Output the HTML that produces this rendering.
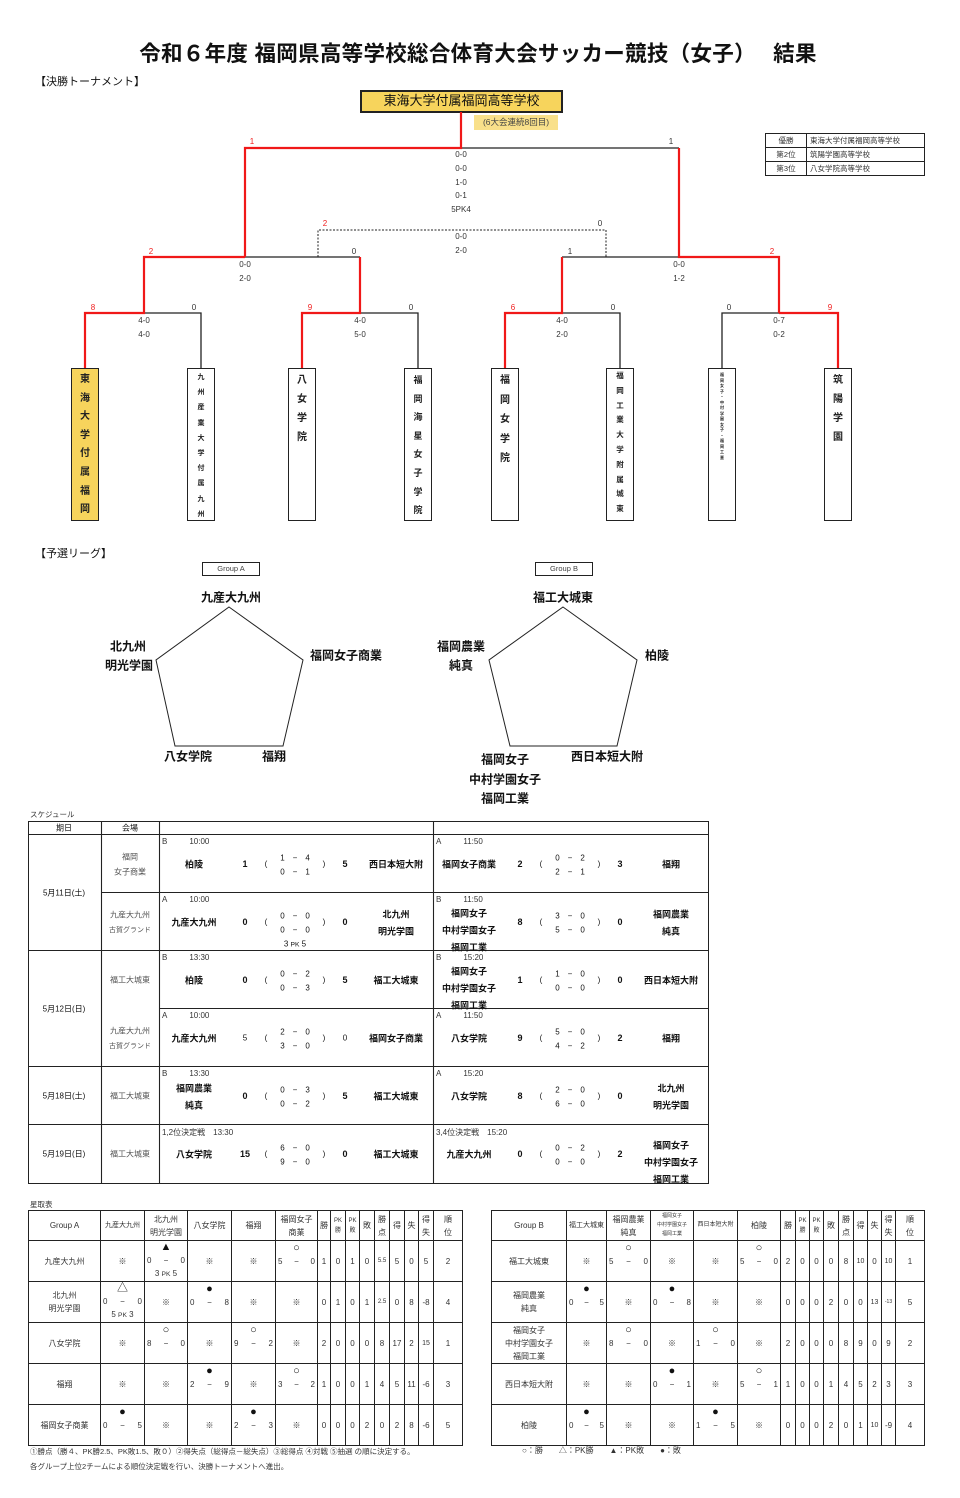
<!DOCTYPE html>
<html><head><meta charset="utf-8">
<style>
*{margin:0;padding:0;box-sizing:border-box}
body{width:960px;height:1498px;background:#fff;position:relative;font-family:"Liberation Sans","Noto Sans CJK JP",sans-serif;color:#111;overflow:hidden}
.a{position:absolute;white-space:nowrap}
.c{position:absolute;white-space:nowrap;transform:translate(-50%,-50%)}
.tb{position:absolute;top:368px;width:28px;height:153px;border:1.5px solid #222;display:flex;flex-direction:column;align-items:center;justify-content:flex-start;font-weight:bold;color:#222}
.lab{font-size:12px;font-weight:bold}
.m{position:absolute;width:274px;height:58px}
.m .lb{position:absolute;left:3px;top:3px;font-size:8px;color:#333}
.m .lb b{font-weight:normal;margin-left:22px}
.m span{position:absolute;white-space:nowrap;transform:translate(-50%,-50%)}
.n{font-size:9px;font-weight:bold}
.s{font-size:8px}
table{border-collapse:collapse;table-layout:fixed;position:absolute;font-size:8px}
td{border:1px solid #222;text-align:center;vertical-align:middle;padding:0;line-height:13px;color:#333}
.r td{height:41px}
.hd td{height:30px}
.rs{display:flex;justify-content:space-between;padding:0 2px}
i{font-style:normal;font-size:11px;line-height:13px;display:block;color:#111}
</style></head><body>

<div class="a" style="left:0;width:956px;top:37px;text-align:center;font-size:21.5px;font-weight:bold;letter-spacing:0.3px">令和６年度 福岡県高等学校総合体育大会サッカー競技（女子）　 結果</div>
<div class="a" style="left:35px;top:73px;font-size:11px">【決勝トーナメント】</div>

<div class="a" style="left:360px;top:90px;width:203px;height:23px;background:#f7d45c;border:2.5px solid #222;text-align:center;font-size:13px;line-height:18px">東海大学付属福岡高等学校</div>
<div class="a" style="left:474px;top:115px;width:84px;height:15px;background:#f9e08a;font-size:8.5px;line-height:15px;text-align:center;color:#444">(6大会連続8回目)</div>

<table style="left:765px;top:133px;width:160px;border:1.5px solid #222;font-size:7.5px">
<tr><td style="width:41px;height:14px;line-height:12px">優勝</td><td style="text-align:left;padding-left:3px;line-height:12px">東海大学付属福岡高等学校</td></tr>
<tr><td style="height:14px;line-height:12px">第2位</td><td style="text-align:left;padding-left:3px;line-height:12px">筑陽学園高等学校</td></tr>
<tr><td style="height:14px;line-height:12px">第3位</td><td style="text-align:left;padding-left:3px;line-height:12px">八女学院高等学校</td></tr>
</table>

<svg class="a" style="left:0;top:0" width="960" height="530">
<g fill="none" stroke-width="1.3" stroke="#222">
<path d="M461 148H679"/>
<path d="M245 257H360M562 257H679"/>
<path d="M144 313H201V368M360 313H418V368M562 313H620V368M722 368V313H779"/>
<path d="M318 257V230H606V257" stroke-dasharray="2 1.5" stroke-width="1"/>
</g>
<g fill="none" stroke-width="2.2" stroke="#f01818">
<path d="M461 112V148H245V257"/>
<path d="M679 148V257H779V313"/>
<path d="M245 257H144V313H85V368"/>
<path d="M360 257V313H302V368"/>
<path d="M562 257V313H505V368"/>
<path d="M779 313H838V368"/>
</g>
<g font-size="8" fill="#333" text-anchor="middle" font-family="Liberation Sans,Noto Sans CJK JP,sans-serif">
<text x="252" y="144" fill="#f02020">1</text><text x="671" y="144">1</text>
<text x="461" y="157">0-0</text><text x="461" y="171">0-0</text><text x="461" y="185">1-0</text><text x="461" y="198">0-1</text><text x="461" y="212">5PK4</text>
<text x="325" y="226" fill="#f02020">2</text><text x="600" y="226">0</text>
<text x="461" y="239">0-0</text><text x="461" y="253">2-0</text>
<text x="151" y="254" fill="#f02020">2</text><text x="354" y="254">0</text><text x="570" y="254">1</text><text x="772" y="254" fill="#f02020">2</text>
<text x="245" y="267">0-0</text><text x="245" y="281">2-0</text><text x="679" y="267">0-0</text><text x="679" y="281">1-2</text>
<text x="93" y="310" fill="#f02020">8</text><text x="194" y="310">0</text>
<text x="310" y="310" fill="#f02020">9</text><text x="411" y="310">0</text>
<text x="513" y="310" fill="#f02020">6</text><text x="613" y="310">0</text>
<text x="729" y="310">0</text><text x="830" y="310" fill="#f02020">9</text>
<text x="144" y="323">4-0</text><text x="144" y="337">4-0</text>
<text x="360" y="323">4-0</text><text x="360" y="337">5-0</text>
<text x="562" y="323">4-0</text><text x="562" y="337">2-0</text>
<text x="779" y="323">0-7</text><text x="779" y="337">0-2</text>
</g>
</svg>

<div class="tb" style="left:71px;background:#f7d45c;font-size:10px;line-height:18.6px;padding-top:2px">東<br>海<br>大<br>学<br>付<br>属<br>福<br>岡</div>
<div class="tb" style="left:187px;font-size:7px;line-height:15.2px;padding-top:1px;text-align:center">九<br>州<br>産<br>業<br>大<br>学<br>付<br>属<br>九<br>州</div>
<div class="tb" style="left:288px;font-size:10px;line-height:19px;padding-top:2px;text-align:center">八<br>女<br>学<br>院</div>
<div class="tb" style="left:404px;font-size:9px;line-height:18.6px;padding-top:2px;text-align:center">福<br>岡<br>海<br>星<br>女<br>子<br>学<br>院</div>
<div class="tb" style="left:491px;font-size:10px;line-height:19.5px;padding-top:2px;text-align:center">福<br>岡<br>女<br>学<br>院</div>
<div class="tb" style="left:606px;font-size:7.5px;line-height:14.8px;padding-top:0px;text-align:center">福<br>岡<br>工<br>業<br>大<br>学<br>附<br>属<br>城<br>東</div>
<div class="tb" style="left:708px;font-size:4px;line-height:5.5px;padding-top:3px;text-align:center">福<br>岡<br>女<br>子<br>・<br>中<br>村<br>学<br>園<br>女<br>子<br>・<br>福<br>岡<br>工<br>業</div>
<div class="tb" style="left:824px;font-size:10px;line-height:19px;padding-top:2px;text-align:center">筑<br>陽<br>学<br>園</div>

<div class="a" style="left:35px;top:545px;font-size:11px">【予選リーグ】</div>
<div class="a" style="left:202px;top:562px;width:58px;height:14px;border:1px solid #222;font-size:7.5px;line-height:12px;text-align:center;color:#444">Group A</div>
<div class="a" style="left:535px;top:562px;width:58px;height:14px;border:1px solid #222;font-size:7.5px;line-height:12px;text-align:center;color:#444">Group B</div>
<svg class="a" style="left:0;top:0" width="960" height="800">
<polygon points="229,607 303,660 283,746 175,746 156,660" fill="none" stroke="#222" stroke-width="1"/>
<polygon points="563,607 637,660 617,746 510,746 489,660" fill="none" stroke="#222" stroke-width="1"/>
</svg>
<div class="c lab" style="left:231px;top:597px">九産大九州</div>
<div class="c lab" style="left:128px;top:646px">北九州</div>
<div class="c lab" style="left:129px;top:665px">明光学園</div>
<div class="c lab" style="left:346px;top:655px">福岡女子商業</div>
<div class="c lab" style="left:188px;top:756px">八女学院</div>
<div class="c lab" style="left:274px;top:756px">福翔</div>
<div class="c lab" style="left:563px;top:597px">福工大城東</div>
<div class="c lab" style="left:461px;top:646px">福岡農業</div>
<div class="c lab" style="left:461px;top:665px">純真</div>
<div class="c lab" style="left:657px;top:655px">柏陵</div>
<div class="c lab" style="left:505px;top:759px">福岡女子</div>
<div class="c lab" style="left:505px;top:779px">中村学園女子</div>
<div class="c lab" style="left:505px;top:798px">福岡工業</div>
<div class="c lab" style="left:607px;top:756px">西日本短大附</div>

<div class="a" style="left:30px;top:809px;font-size:7.5px;color:#333">スケジュール</div>
<div class="a" style="left:28px;top:821px;width:681px;height:363px;border:1.5px solid #222"></div>
<svg class="a" style="left:0;top:0" width="960" height="1200">
<g stroke="#222" stroke-width="1.1">
<path d="M28 834.5H708M28 950.5H708M28 1066.5H708M28 1124.5H708M101 892.5H708M159 1008.5H708"/>
<path d="M101.5 821V1183M159.5 821V1183M433.5 821V1183"/>
</g>
</svg>
<div class="c s" style="left:64px;top:828px">期日</div>
<div class="c s" style="left:130px;top:828px">会場</div>
<div class="c s" style="left:64px;top:893px">5月11日(土)</div>
<div class="c s" style="left:64px;top:1009px">5月12日(日)</div>
<div class="c s" style="left:64px;top:1096px">5月18日(土)</div>
<div class="c s" style="left:64px;top:1154px">5月19日(日)</div>
<div class="c s" style="left:130px;top:857px;color:#555">福岡</div>
<div class="c s" style="left:130px;top:872px;color:#555">女子商業</div>
<div class="c s" style="left:130px;top:915px;color:#555">九産大九州</div>
<div class="c s" style="left:130px;top:930px;color:#555;font-size:7px">古賀グランド</div>
<div class="c s" style="left:130px;top:980px;color:#555">福工大城東</div>
<div class="c s" style="left:130px;top:1031px;color:#555">九産大九州</div>
<div class="c s" style="left:130px;top:1046px;color:#555;font-size:7px">古賀グランド</div>
<div class="c s" style="left:130px;top:1096px;color:#555">福工大城東</div>
<div class="c s" style="left:130px;top:1154px;color:#555">福工大城東</div>

<div class="m" style="left:159px;top:834px"><div class="lb">B<b>10:00</b></div>
<span class="n" style="left:35px;top:30px">柏陵</span><span class="n" style="left:86px;top:30px">1</span><span class="s" style="left:107px;top:30px">(</span>
<span class="s" style="left:136px;top:24px">1　−　4</span><span class="s" style="left:136px;top:38px">0　−　1</span>
<span class="s" style="left:165px;top:30px">)</span><span class="n" style="left:186px;top:30px">5</span><span class="n" style="left:237px;top:30px">西日本短大附</span></div>
<div class="m" style="left:433px;top:834px"><div class="lb">A<b>11:50</b></div>
<span class="n" style="left:36px;top:30px">福岡女子商業</span><span class="n" style="left:87px;top:30px">2</span><span class="s" style="left:108px;top:30px">(</span>
<span class="s" style="left:137px;top:24px">0　−　2</span><span class="s" style="left:137px;top:38px">2　−　1</span>
<span class="s" style="left:166px;top:30px">)</span><span class="n" style="left:187px;top:30px">3</span><span class="n" style="left:238px;top:30px">福翔</span></div>
<div class="m" style="left:159px;top:892px"><div class="lb">A<b>10:00</b></div>
<span class="n" style="left:35px;top:30px">九産大九州</span><span class="n" style="left:86px;top:30px">0</span><span class="s" style="left:107px;top:30px">(</span>
<span class="s" style="left:136px;top:24px">0　−　0</span><span class="s" style="left:136px;top:38px">0　−　0</span><span class="s" style="left:136px;top:52px">3 <small>PK</small> 5</span>
<span class="s" style="left:165px;top:30px">)</span><span class="n" style="left:186px;top:30px">0</span><span class="n" style="left:237px;top:22px">北九州</span><span class="n" style="left:237px;top:39px">明光学園</span></div>
<div class="m" style="left:433px;top:892px"><div class="lb">B<b>11:50</b></div>
<span class="n" style="left:36px;top:21px">福岡女子</span><span class="n" style="left:36px;top:38px">中村学園女子</span><span class="n" style="left:36px;top:55px">福岡工業</span>
<span class="n" style="left:87px;top:30px">8</span><span class="s" style="left:108px;top:30px">(</span>
<span class="s" style="left:137px;top:24px">3　−　0</span><span class="s" style="left:137px;top:38px">5　−　0</span>
<span class="s" style="left:166px;top:30px">)</span><span class="n" style="left:187px;top:30px">0</span><span class="n" style="left:238px;top:22px">福岡農業</span><span class="n" style="left:238px;top:39px">純真</span></div>
<div class="m" style="left:159px;top:950px"><div class="lb">B<b>13:30</b></div>
<span class="n" style="left:35px;top:30px">柏陵</span><span class="n" style="left:86px;top:30px">0</span><span class="s" style="left:107px;top:30px">(</span>
<span class="s" style="left:136px;top:24px">0　−　2</span><span class="s" style="left:136px;top:38px">0　−　3</span>
<span class="s" style="left:165px;top:30px">)</span><span class="n" style="left:186px;top:30px">5</span><span class="n" style="left:237px;top:30px">福工大城東</span></div>
<div class="m" style="left:433px;top:950px"><div class="lb">B<b>15:20</b></div>
<span class="n" style="left:36px;top:21px">福岡女子</span><span class="n" style="left:36px;top:38px">中村学園女子</span><span class="n" style="left:36px;top:55px">福岡工業</span>
<span class="n" style="left:87px;top:30px">1</span><span class="s" style="left:108px;top:30px">(</span>
<span class="s" style="left:137px;top:24px">1　−　0</span><span class="s" style="left:137px;top:38px">0　−　0</span>
<span class="s" style="left:166px;top:30px">)</span><span class="n" style="left:187px;top:30px">0</span><span class="n" style="left:238px;top:30px">西日本短大附</span></div>
<div class="m" style="left:159px;top:1008px"><div class="lb">A<b>10:00</b></div>
<span class="n" style="left:35px;top:30px">九産大九州</span><span class="s" style="left:86px;top:30px">5</span><span class="s" style="left:107px;top:30px">(</span>
<span class="s" style="left:136px;top:24px">2　−　0</span><span class="s" style="left:136px;top:38px">3　−　0</span>
<span class="s" style="left:165px;top:30px">)</span><span class="s" style="left:186px;top:30px">0</span><span class="n" style="left:237px;top:30px">福岡女子商業</span></div>
<div class="m" style="left:433px;top:1008px"><div class="lb">A<b>11:50</b></div>
<span class="n" style="left:36px;top:30px">八女学院</span><span class="n" style="left:87px;top:30px">9</span><span class="s" style="left:108px;top:30px">(</span>
<span class="s" style="left:137px;top:24px">5　−　0</span><span class="s" style="left:137px;top:38px">4　−　2</span>
<span class="s" style="left:166px;top:30px">)</span><span class="n" style="left:187px;top:30px">2</span><span class="n" style="left:238px;top:30px">福翔</span></div>
<div class="m" style="left:159px;top:1066px"><div class="lb">B<b>13:30</b></div>
<span class="n" style="left:35px;top:22px">福岡農業</span><span class="n" style="left:35px;top:39px">純真</span><span class="n" style="left:86px;top:30px">0</span><span class="s" style="left:107px;top:30px">(</span>
<span class="s" style="left:136px;top:24px">0　−　3</span><span class="s" style="left:136px;top:38px">0　−　2</span>
<span class="s" style="left:165px;top:30px">)</span><span class="n" style="left:186px;top:30px">5</span><span class="n" style="left:237px;top:30px">福工大城東</span></div>
<div class="m" style="left:433px;top:1066px"><div class="lb">A<b>15:20</b></div>
<span class="n" style="left:36px;top:30px">八女学院</span><span class="n" style="left:87px;top:30px">8</span><span class="s" style="left:108px;top:30px">(</span>
<span class="s" style="left:137px;top:24px">2　−　0</span><span class="s" style="left:137px;top:38px">6　−　0</span>
<span class="s" style="left:166px;top:30px">)</span><span class="n" style="left:187px;top:30px">0</span><span class="n" style="left:238px;top:22px">北九州</span><span class="n" style="left:238px;top:39px">明光学園</span></div>
<div class="m" style="left:159px;top:1124px"><div class="lb">1,2位決定戦　13:30</div>
<span class="n" style="left:35px;top:30px">八女学院</span><span class="n" style="left:86px;top:30px">15</span><span class="s" style="left:107px;top:30px">(</span>
<span class="s" style="left:136px;top:24px">6　−　0</span><span class="s" style="left:136px;top:38px">9　−　0</span>
<span class="s" style="left:165px;top:30px">)</span><span class="n" style="left:186px;top:30px">0</span><span class="n" style="left:237px;top:30px">福工大城東</span></div>
<div class="m" style="left:433px;top:1124px"><div class="lb">3,4位決定戦　15:20</div>
<span class="n" style="left:36px;top:30px">九産大九州</span><span class="n" style="left:87px;top:30px">0</span><span class="s" style="left:108px;top:30px">(</span>
<span class="s" style="left:137px;top:24px">0　−　2</span><span class="s" style="left:137px;top:38px">0　−　0</span>
<span class="s" style="left:166px;top:30px">)</span><span class="n" style="left:187px;top:30px">2</span><span class="n" style="left:238px;top:21px">福岡女子</span><span class="n" style="left:238px;top:38px">中村学園女子</span><span class="n" style="left:238px;top:55px">福岡工業</span></div>

<div class="a" style="left:30px;top:1199px;font-size:7.5px;color:#333">星取表</div>

<table style="left:28px;top:1210px;width:435px;border:1.5px solid #222">
<colgroup><col style="width:72px"><col style="width:44px"><col style="width:43px"><col style="width:44px"><col style="width:44px"><col style="width:42px"><col style="width:13px"><col style="width:15px"><col style="width:14px"><col style="width:15px"><col style="width:15px"><col style="width:15px"><col style="width:14px"><col style="width:15px"><col style="width:29px"></colgroup>
<tr class="hd"><td>Group A</td><td style="font-size:7px">九産大九州</td><td>北九州<br>明光学園</td><td>八女学院</td><td>福翔</td><td>福岡女子<br>商業</td><td>勝</td><td style="font-size:6px;line-height:10px">PK<br>勝</td><td style="font-size:6px;line-height:10px">PK<br>敗</td><td>敗</td><td>勝<br>点</td><td>得</td><td>失</td><td>得<br>失</td><td>順<br>位</td></tr>
<tr class="r"><td>九産大九州</td><td>※</td><td><i>▲</i><div class="rs"><span>0</span><span>−</span><span>0</span></div>3 <small>PK</small> 5</td><td>※</td><td>※</td><td><i>○</i><div class="rs"><span>5</span><span>−</span><span>0</span></div>&nbsp;</td><td>1</td><td>0</td><td>1</td><td>0</td><td style="font-size:6px">5.5</td><td>5</td><td>0</td><td>5</td><td>2</td></tr>
<tr class="r"><td>北九州<br>明光学園</td><td><i>△</i><div class="rs"><span>0</span><span>−</span><span>0</span></div>5 <small>PK</small> 3</td><td>※</td><td><i>●</i><div class="rs"><span>0</span><span>−</span><span>8</span></div>&nbsp;</td><td>※</td><td>※</td><td>0</td><td>1</td><td>0</td><td>1</td><td style="font-size:6px">2.5</td><td>0</td><td>8</td><td>-8</td><td>4</td></tr>
<tr class="r"><td>八女学院</td><td>※</td><td><i>○</i><div class="rs"><span>8</span><span>−</span><span>0</span></div>&nbsp;</td><td>※</td><td><i>○</i><div class="rs"><span>9</span><span>−</span><span>2</span></div>&nbsp;</td><td>※</td><td>2</td><td>0</td><td>0</td><td>0</td><td>8</td><td>17</td><td>2</td><td style="font-size:7px">15</td><td>1</td></tr>
<tr class="r"><td>福翔</td><td>※</td><td>※</td><td><i>●</i><div class="rs"><span>2</span><span>−</span><span>9</span></div>&nbsp;</td><td>※</td><td><i>○</i><div class="rs"><span>3</span><span>−</span><span>2</span></div>&nbsp;</td><td>1</td><td>0</td><td>0</td><td>1</td><td>4</td><td>5</td><td>11</td><td>-6</td><td>3</td></tr>
<tr class="r"><td>福岡女子商業</td><td><i>●</i><div class="rs"><span>0</span><span>−</span><span>5</span></div>&nbsp;</td><td>※</td><td>※</td><td><i>●</i><div class="rs"><span>2</span><span>−</span><span>3</span></div>&nbsp;</td><td>※</td><td>0</td><td>0</td><td>0</td><td>2</td><td>0</td><td>2</td><td>8</td><td>-6</td><td>5</td></tr>
</table>

<table style="left:491px;top:1210px;width:434px;border:1.5px solid #222">
<colgroup><col style="width:75px"><col style="width:40px"><col style="width:44px"><col style="width:43px"><col style="width:44px"><col style="width:43px"><col style="width:15px"><col style="width:14px"><col style="width:14px"><col style="width:15px"><col style="width:15px"><col style="width:14px"><col style="width:14px"><col style="width:14px"><col style="width:29px"></colgroup>
<tr class="hd"><td>Group B</td><td style="font-size:7px">福工大城東</td><td>福岡農業<br>純真</td><td style="font-size:5px;line-height:9px">福岡女子<br>中村学園女子<br>福岡工業</td><td style="font-size:6px">西日本短大附</td><td>柏陵</td><td>勝</td><td style="font-size:6px;line-height:10px">PK<br>勝</td><td style="font-size:6px;line-height:10px">PK<br>敗</td><td>敗</td><td>勝<br>点</td><td>得</td><td>失</td><td>得<br>失</td><td>順<br>位</td></tr>
<tr class="r"><td>福工大城東</td><td>※</td><td><i>○</i><div class="rs"><span>5</span><span>−</span><span>0</span></div>&nbsp;</td><td>※</td><td>※</td><td><i>○</i><div class="rs"><span>5</span><span>−</span><span>0</span></div>&nbsp;</td><td>2</td><td>0</td><td>0</td><td>0</td><td>8</td><td style="font-size:7px">10</td><td>0</td><td style="font-size:7px">10</td><td>1</td></tr>
<tr class="r"><td>福岡農業<br>純真</td><td><i>●</i><div class="rs"><span>0</span><span>−</span><span>5</span></div>&nbsp;</td><td>※</td><td><i>●</i><div class="rs"><span>0</span><span>−</span><span>8</span></div>&nbsp;</td><td>※</td><td>※</td><td>0</td><td>0</td><td>0</td><td>2</td><td>0</td><td>0</td><td style="font-size:7px">13</td><td style="font-size:5px">-13</td><td>5</td></tr>
<tr class="r"><td>福岡女子<br>中村学園女子<br>福岡工業</td><td>※</td><td><i>○</i><div class="rs"><span>8</span><span>−</span><span>0</span></div>&nbsp;</td><td>※</td><td><i>○</i><div class="rs"><span>1</span><span>−</span><span>0</span></div>&nbsp;</td><td>※</td><td>2</td><td>0</td><td>0</td><td>0</td><td>8</td><td>9</td><td>0</td><td>9</td><td>2</td></tr>
<tr class="r"><td>西日本短大附</td><td>※</td><td>※</td><td><i>●</i><div class="rs"><span>0</span><span>−</span><span>1</span></div>&nbsp;</td><td>※</td><td><i>○</i><div class="rs"><span>5</span><span>−</span><span>1</span></div>&nbsp;</td><td>1</td><td>0</td><td>0</td><td>1</td><td>4</td><td>5</td><td>2</td><td>3</td><td>3</td></tr>
<tr class="r"><td>柏陵</td><td><i>●</i><div class="rs"><span>0</span><span>−</span><span>5</span></div>&nbsp;</td><td>※</td><td>※</td><td><i>●</i><div class="rs"><span>1</span><span>−</span><span>5</span></div>&nbsp;</td><td>※</td><td>0</td><td>0</td><td>0</td><td>2</td><td>0</td><td>1</td><td style="font-size:7px">10</td><td>-9</td><td>4</td></tr>
</table>

<div class="a" style="left:30px;top:1446px;font-size:7.5px;color:#333">①勝点（勝４、PK勝2.5、PK敗1.5、敗０）②得失点（総得点－総失点）③総得点 ④対戦 ⑤抽選 の順に決定する。</div>
<div class="a" style="left:522px;top:1445px;font-size:8px;color:#333">○：勝　　△：PK勝　　▲：PK敗　　●：敗</div>
<div class="a" style="left:30px;top:1461px;font-size:7.5px;color:#333">各グループ上位2チームによる順位決定戦を行い、決勝トーナメントへ進出。</div>
</body></html>
